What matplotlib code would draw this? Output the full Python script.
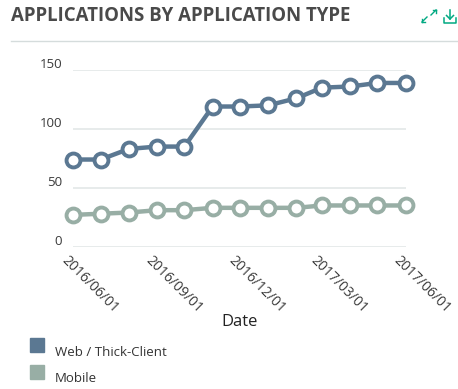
import numpy as np
import pandas as pd
import matplotlib
matplotlib.use("Agg")
import matplotlib.pyplot as plt
import matplotlib.transforms as mtransforms
from matplotlib.patches import Rectangle

plt.rcParams['font.family'] = ['Open Sans', 'DejaVu Sans']

# monthly snapshots
dates = pd.date_range("2016-06-01", "2017-06-01", freq="MS")
web_thick = [74, 74, 83, 85, 85, 119, 119, 120, 126, 135, 136, 139, 139]
mobile = [27, 28, 29, 31, 31, 33, 33, 33, 33, 35, 35, 35, 35]
series_names = ["Web / Thick-Client", "Mobile"]
series_colors = ["#5b7892", "#98aea5"]
y_ticks = [0, 50, 100, 150]
x_ticks = pd.to_datetime(["2016-06-01", "2016-09-01", "2016-12-01", "2017-03-01", "2017-06-01"])

W, H = 458, 389
fig = plt.figure(figsize=(W / 100, H / 100), dpi=100)
fig.patch.set_facecolor("white")

def px(x, y):
    return x / W, 1 - y / H

# header
fig.text(*px(11, 16), "APPLICATIONS BY APPLICATION TYPE", fontsize=13.4, fontweight="bold",
         color="#4a4a4a", ha="left", va="center")
fig.add_artist(plt.Line2D([11 / W, 457 / W], [1 - 40.5 / H] * 2, color="#d5dcdc", lw=1))

# expand / download icons
green = "#01a982"
for (x0, y0, x1, y1) in [(427, 17, 422, 22), (431, 15, 436, 10)]:
    fig.add_artist(plt.Line2D([x0 / W, x1 / W], [1 - y0 / H, 1 - y1 / H], color=green, lw=1.0))
    fig.add_artist(plt.Line2D([x1 / W, x1 / W + (x0 - x1) / W * 0.6], [1 - y1 / H, 1 - y1 / H], color=green, lw=1.0))
    fig.add_artist(plt.Line2D([x1 / W, x1 / W], [1 - y1 / H, 1 - (y1 + (y0 - y1) * 0.6) / H], color=green, lw=1.0))
fig.add_artist(plt.Line2D([450 / W, 450 / W], [1 - 10 / H, 1 - 19 / H], color=green, lw=1.1))
fig.add_artist(plt.Line2D([446.5 / W, 450 / W, 453.5 / W], [1 - 15.5 / H, 1 - 19 / H, 1 - 15.5 / H], color=green, lw=1.1))
fig.add_artist(plt.Line2D([444 / W, 444 / W, 456 / W, 456 / W], [1 - 18 / H, 1 - 23 / H, 1 - 23 / H, 1 - 18 / H],
                          color=green, lw=1.1))

# plot area
left, right, top, bottom = 73.3, 405.7, 70, 246.7
ax = fig.add_axes([left / W, 1 - bottom / H, (right - left) / W, (bottom - top) / H])
for name, vals, c in zip(series_names, [web_thick, mobile], series_colors):
    ax.plot(dates, vals, color=c, lw=3.2, marker="o", ms=10, mfc="white", mec=c, mew=2.8,
            clip_on=False, zorder=3, label=name)

ax.set_xlim(dates[0], dates[-1])
ax.set_ylim(0, 150)
ax.set_yticks(y_ticks)
ax.set_xticks(x_ticks)
ax.set_xticklabels([d.strftime("%Y/%m/%d") for d in x_ticks])
ax.grid(axis="y", color="#e3e7e7", lw=1.2)
ax.set_axisbelow(True)
for s in ax.spines.values():
    s.set_visible(False)
ax.tick_params(axis="both", length=0)
ax.tick_params(axis="y", pad=8, labelsize=9.5, labelcolor="#3a3a3a")
ax.tick_params(axis="x", pad=4, labelsize=10, labelcolor="#3a3a3a")

shift = mtransforms.ScaledTranslation(0, 5 / 72, fig.dpi_scale_trans)
for lab in ax.get_yticklabels():
    lab.set_transform(lab.get_transform() + shift)
for lab in ax.get_xticklabels():
    lab.set_rotation(-45)
    lab.set_ha("left")
    lab.set_va("top")
    lab.set_rotation_mode("anchor")
    lab.set_transform(lab.get_transform() + mtransforms.ScaledTranslation(-3 / 72, -1 / 72, fig.dpi_scale_trans))

fig.text(*px(240, 322), "Date", fontsize=12, color="#222222", ha="center", va="center")

# legend
for i, (name, c) in enumerate(zip(series_names, series_colors)):
    y = 338 + i * 27
    fig.add_artist(Rectangle(px(30, y + 14), 14 / W, 14 / H, color=c, transform=fig.transFigure))
    fig.text(*px(55, y + 14), name, fontsize=9.5, color="#333333", ha="left", va="center")

fig.savefig("out.png", dpi=100)
